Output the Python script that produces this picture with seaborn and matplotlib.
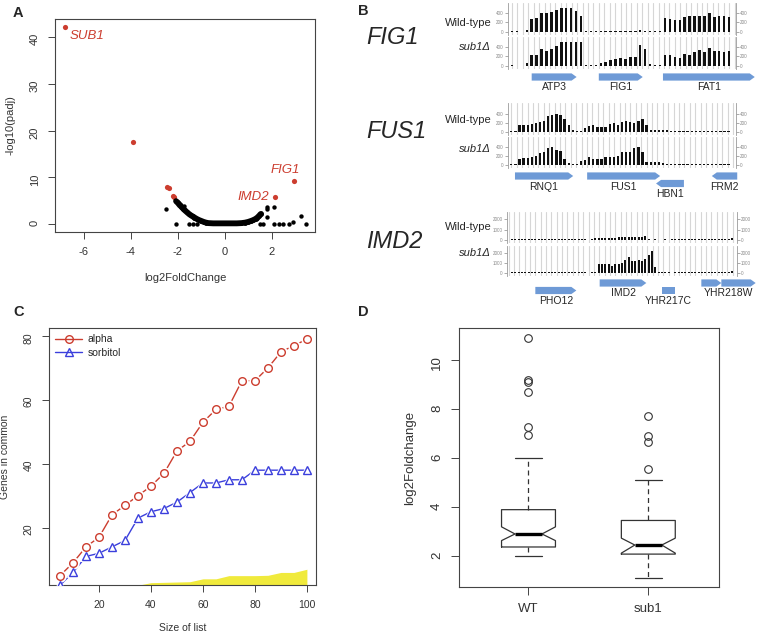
import numpy as np
import matplotlib.pyplot as plt
from matplotlib.patches import Polygon
from matplotlib.lines import Line2D
from matplotlib.ticker import MultipleLocator
import seaborn as sns

sns.set_style('ticks')
plt.rcParams['font.family'] = ['Liberation Sans', 'DejaVu Sans']
plt.rcParams['axes.unicode_minus'] = False

W, H = 757, 635
RED = '#cc3d2f'
BLUE = '#3b3fdc'
GENE_BLUE = '#6e9ad6'
YELLOW = '#f0ea3c'
INK = '#333333'

# ---------------- A: volcano ----------------
vol_red_x = [-6.8, -3.9, -2.45, -2.4, -2.22, -2.15, 2.12, 2.93]
vol_red_y = [42.1, 17.6, 7.9, 7.7, 6.0, 5.8, 5.7, 9.2]
# dense bulk of genes (the U shaped band)
vol_band_x = [-2.08, -2.0, -1.92, -1.85, -1.78, -1.7, -1.62, -1.54, -1.46, -1.38, -1.3, -1.2,
              -1.1, -1.0, -0.9, -0.8, -0.7, -0.5, -0.25, 0.0, 0.25, 0.5, 0.7, 0.85, 0.98,
              1.1, 1.2, 1.3, 1.38, 1.45, 1.52]
vol_band_y = [4.9, 4.5, 4.0, 3.7, 3.3, 2.9, 2.55, 2.2, 1.9, 1.65, 1.4, 1.1, 0.85, 0.65, 0.45,
              0.3, 0.2, 0.15, 0.15, 0.15, 0.15, 0.15, 0.2, 0.3, 0.45, 0.65, 0.85, 1.1, 1.4,
              1.75, 2.15]
vol_other_x = [-2.52, -2.07, -1.52, -1.35, -1.2, -1.9, -1.98, -1.75, 1.77, 1.78, 2.09, 1.8,
               1.62, 1.49, 2.07, 2.31, 2.48, 2.72, 2.88, 3.23, 3.45, 1.55, 1.4]
vol_other_y = [3.2, 0.0, 0.1, 0.1, 0.0, 4.2, 4.7, 3.9, 3.2, 3.55, 3.7, 1.6, 0.0, 0.0, 0.0,
               0.05, 0.05, 0.05, 0.45, 1.8, 0.05, 2.4, 1.8]
vol_labels = ['SUB1', 'FIG1', 'IMD2']
vol_label_x = [-6.8, 2.93, 2.12]
vol_label_y = [42.1, 9.2, 5.7]

# ---------------- B: coverage tracks ----------------
fig1_wt = [25, 25, None, 40, 260, 280, 390, 390, 410, 460, 500, 500, 500, 430, 340,
           25, 25, 25, 25, 25, 25, 25, 25, 25, 25, 25, 40, 25, 25, 25, 25,
           280, 270, 240, 240, 300, 330, 340, 340, 340, 400, 310, 340, 330, 320]
fig1_sub1 = [25, None, None, 50, 220, 230, 360, 310, 360, 420, 500, 500, 500, 500, 490,
             25, 20, 20, 50, 70, 110, 150, 170, 140, 180, 190, 430, 360, 40, 20, 20,
             220, 220, 180, 170, 250, 230, 280, 340, 290, 380, 310, 320, 290, 310]
fus1_wt = [25, 25, 150, 140, 150, 180, 200, 210, 250, 340, 370, 390, 370, 290, 140,
           40, 25, 25, 80, 120, 150, 110, 110, 110, 170, 190, 150, 210, 230, 220, 190,
           240, 280, 160, 40, 30, 30, 30, 30, 25,
           25, 25, 25, 25, 25, 25, 25, 25, 25, 25, 25, 25, 25, 25]
fus1_sub1 = [25, 25, 130, 150, 150, 190, 200, 260, 300, 390, 410, 340, 310, 130, 50,
             25, 25, 90, 120, 170, 130, 130, 130, 170, 190, 170, 200, 300, 300, 300, 370,
             410, 300, 60, 60, 60, 60, 50, 25, 25,
             25, 25, 25, 25, 25, 25, 25, 25, 25, 25, 25, 25, 25, 25]
imd2_wt = ([None] + [110] * 23 + [None, 110,
           130, 160, 150, 180, 160, 190, 180, 220, 230, 220, 260, 260, 260, 250, 270, 360,
           110, None, 110, None, None, 110, None] + [110] * 18 + [150, None])
imd2_sub1 = ([None] + [110] * 23 + [None, 110,
             150, 900, 900, 880, 940, 760, 880, 870, 1020, 1330, 1570, 1180, 1190, 1340,
             1200, 1450, 1840, 2200, 620,
             110, 110, 110, 110, None] + [110] * 17 + [200, None])

fig1_gene_names = ['ATP3', 'FIG1', 'FAT1']
fig1_gene_start = [4.0, 17.6, 30.6]
fig1_gene_end = [13.1, 26.5, 49.2]
fig1_gene_strand = [1, 1, 1]
fig1_gene_lane = [0, 0, 0]

fus1_gene_names = ['RNQ1', 'FUS1', 'HBN1', 'FRM2']
fus1_gene_start = [0.9, 18.5, 35.3, 48.9]
fus1_gene_end = [15.1, 36.3, 42.1, 55.1]
fus1_gene_strand = [1, 1, -1, -1]
fus1_gene_lane = [0, 0, 1, 0]

imd2_gene_names = ['PHO12', 'IMD2', 'YHR217C', '', 'YHR218W']
imd2_gene_start = [8.0, 27.3, 46.0, 57.8, 63.8]
imd2_gene_end = [20.3, 41.3, 50.0, 63.8, 74.1]
imd2_gene_strand = [1, 1, 0, 1, 1]
imd2_gene_lane = [1, 0, 1, 0, 0]

# ---------------- C: overlap curves ----------------
list_size = [5, 10, 15, 20, 25, 30, 35, 40, 45, 50, 55, 60, 65, 70, 75, 80, 85, 90, 95, 100]
alpha_common = [5, 9, 14, 17, 24, 27, 30, 33, 37, 44, 47, 53, 57, 58, 66, 66, 70, 75, 77, 79]
sorbitol_common = [2, 6, 11, 12, 14, 16, 23, 25, 26, 28, 31, 34, 34, 35, 35, 38, 38, 38, 38, 38]
random_size = [35, 40, 45, 50, 55, 60, 65, 70, 75, 80, 85, 90, 95, 100]
random_common = [2.0, 2.8, 2.9, 3.0, 3.1, 4.0, 4.0, 5.0, 5.0, 5.0, 5.1, 6.0, 6.0, 7.0]

# ---------------- D: boxplot summary ----------------
box_groups = ['WT', 'sub1']
box_med = [2.91, 2.46]
box_q1 = [2.38, 2.09]
box_q3 = [3.90, 3.46]
box_whislo = [2.00, 1.13]
box_whishi = [6.00, 5.10]
box_cilo = [2.64, 2.13]
box_cihi = [3.20, 2.74]
box_fliers = [[10.91, 9.17, 9.09, 8.68, 7.28, 6.94], [7.72, 6.90, 6.67, 5.54]]


fig = plt.figure(figsize=(W / 100, H / 100), dpi=100)
over = fig.add_axes([0, 0, 1, 1])
over.set_xlim(0, W)
over.set_ylim(H, 0)
over.axis('off')


def px_axes(left, top, right, bottom):
    return fig.add_axes([left / W, 1 - bottom / H, (right - left) / W, (bottom - top) / H])


def r_style(ax, fs, length=5, pad=5):
    for s in ax.spines.values():
        s.set_visible(True)
        s.set_color('#444444')
        s.set_linewidth(0.8)
    ax.tick_params(direction='out', length=length, width=0.7, colors='#444444',
                   labelsize=fs, labelcolor=INK, pad=pad, bottom=True, left=True)
    ax.tick_params(axis='y', labelrotation=90)


# ---- A ----
axA = px_axes(55, 19, 315, 232)
sns.lineplot(x=vol_band_x, y=vol_band_y, sort=False, estimator=None, color='black',
             lw=4.2, solid_capstyle='round', ax=axA)
sns.scatterplot(x=vol_band_x, y=vol_band_y, color='black', s=12, linewidth=0, ax=axA)
sns.scatterplot(x=vol_other_x, y=vol_other_y, color='black', s=10, linewidth=0, ax=axA)
sns.scatterplot(x=vol_red_x, y=vol_red_y, color=RED, s=14, linewidth=0, ax=axA)
offsets = [(3, -6.5, 'left'), (4.5, 8, 'right'), (-4, 0.5, 'right')]
for lab, lx, ly, (dx, dy, ha) in zip(vol_labels, vol_label_x, vol_label_y, offsets):
    axA.annotate(lab, (lx, ly), xytext=(dx, dy), textcoords='offset points', ha=ha,
                 va='center', color=RED, style='italic', fontsize=9.5)
axA.set_xlim(-7.23, 3.83)
axA.set_ylim(-1.7, 43.85)
axA.set_xticks([-6, -4, -2, 0, 2])
axA.set_yticks([0, 10, 20, 30, 40])
r_style(axA, 8, pad=6)
axA.set_xlabel('log2FoldChange', fontsize=8, color=INK, labelpad=11)
axA.set_ylabel('-log10(padj)', fontsize=8, color=INK, labelpad=10)


# ---- B ----
def track(left, top, right, bottom, vals, ylim, yticks, xlim, grid_step, bar_w):
    ax = px_axes(left, top, right, bottom)
    v = np.array([np.nan if x is None else x for x in vals], dtype=float)
    pos = np.arange(len(v))
    keep = ~np.isnan(v)
    sns.barplot(x=pos[keep], y=v[keep], native_scale=True, orient='x', color='#111111',
                saturation=1, width=bar_w, errorbar=None, linewidth=0, ax=ax)
    ax.set_xlim(xlim)
    ax.set_ylim(ylim)
    ax.set_xlabel('')
    ax.set_ylabel('')
    ax.xaxis.set_major_locator(MultipleLocator(grid_step))
    ax.grid(axis='x', color='#d6d6d6', lw=0.8)
    ax.grid(axis='y', visible=False)
    ax.set_axisbelow(True)
    ax.tick_params(axis='x', length=0, labelbottom=False)
    ax.set_yticks(yticks)
    ax.tick_params(axis='y', left=True, right=True, labelleft=True, labelright=True,
                   direction='out', length=2, width=0.5, colors='#8a8a8a',
                   labelsize=3.3, pad=1)
    for side in ('top', 'bottom'):
        ax.spines[side].set_visible(False)
    for side in ('left', 'right'):
        ax.spines[side].set_visible(True)
        ax.spines[side].set_color('#9a9a9a')
        ax.spines[side].set_linewidth(0.6)
    ax.patch.set_alpha(0)
    return ax


def genes(ax_ref, names, starts, ends, strands, lanes, lane_top):
    x0, x1 = ax_ref.get_xlim()
    bb = ax_ref.get_position()
    left, width = bb.x0 * W, bb.width * W

    def to_px(b):
        return left + (b - x0) / (x1 - x0) * width

    h = 3.6
    for name, s, e, st, ln in zip(names, starts, ends, strands, lanes):
        ps, pe = to_px(s), to_px(e)
        yc = lane_top + 7.5 * ln
        head = min(5.0, (pe - ps) * 0.5)
        if st > 0:
            pts = [(ps, yc - h), (pe - head, yc - h), (pe, yc), (pe - head, yc + h), (ps, yc + h)]
        elif st < 0:
            pts = [(pe, yc - h), (ps + head, yc - h), (ps, yc), (ps + head, yc + h), (pe, yc + h)]
        else:
            pts = [(ps, yc - h), (pe, yc - h), (pe, yc + h), (ps, yc + h)]
        over.add_patch(Polygon(pts, closed=True, fc=GENE_BLUE, ec='none'))
        if name:
            cx = (ps + pe) / 2
            if cx + 25 > 753:
                over.text(753, yc + 10.5, name, ha='right', va='center', fontsize=7.5)
            else:
                over.text(cx, yc + 10.5, name, ha='center', va='center', fontsize=7.5)


t1 = track(508, 3, 736, 35, fig1_wt, (-69, 604), [0, 200, 400], (-0.8, 45.4), 1.1, 0.5)
t2 = track(508, 37, 736, 69, fig1_sub1, (-69, 604), [0, 200, 400], (-0.8, 45.4), 1.1, 0.5)
genes(t2, fig1_gene_names, fig1_gene_start, fig1_gene_end, fig1_gene_strand, fig1_gene_lane, 77)

t3 = track(508, 103.4, 736, 134.9, fus1_wt, (-70, 630), [0, 200, 400], (-0.8, 54.8), 1.32, 0.55)
t4 = track(508, 136.7, 736, 168.2, fus1_sub1, (-70, 630), [0, 200, 400], (-0.8, 54.8), 1.32, 0.55)
genes(t4, fus1_gene_names, fus1_gene_start, fus1_gene_end, fus1_gene_strand, fus1_gene_lane, 176)

t5 = track(507, 212.2, 737, 242.8, imd2_wt, (-300, 2700), [0, 1000, 2000], (-0.5, 68.5), 1.6, 0.6)
t6 = track(507, 245.8, 737, 276.4, imd2_sub1, (-300, 2700), [0, 1000, 2000], (-0.5, 68.5), 1.6, 0.6)
genes(t6, imd2_gene_names, imd2_gene_start, imd2_gene_end, imd2_gene_strand, imd2_gene_lane, 283)

for name, y in [('FIG1', 37), ('FUS1', 131), ('IMD2', 241)]:
    over.text(366, y, name, style='italic', fontsize=17, ha='left', va='center')
for y_wt, y_sub in [(23, 47), (120, 149), (227, 253)]:
    over.text(492, y_wt, 'Wild-type', ha='right', va='center', fontsize=8)
    over.text(491, y_sub, 'sub1Δ', ha='right', va='center', fontsize=8, style='italic')


# ---- C ----
axC = px_axes(49, 328, 316, 585)
axC.fill_between(random_size, 0, random_common, color=YELLOW, lw=0, zorder=1)
for ys, col, mk in [(alpha_common, RED, 'o'), (sorbitol_common, BLUE, '^')]:
    sns.lineplot(x=list_size, y=ys, color=col, lw=1.0, ax=axC, zorder=2)
    sns.lineplot(x=list_size, y=ys, color='white', ls='none', marker=mk, markersize=9,
                 markerfacecolor='white', markeredgecolor='white', markeredgewidth=0,
                 ax=axC, zorder=3)
    sns.lineplot(x=list_size, y=ys, color=col, ls='none', marker=mk, markersize=5.5,
                 markerfacecolor='none', markeredgecolor=col, markeredgewidth=1.0,
                 ax=axC, zorder=4)
axC.set_xlim(0.77, 103.5)
axC.set_ylim(2.07, 82.5)
axC.set_xticks([20, 40, 60, 80, 100])
axC.set_yticks([20, 40, 60, 80])
r_style(axC, 7.5, pad=6)
axC.set_xlabel('Size of list', fontsize=7.5, color=INK, labelpad=9)
axC.set_ylabel('Genes in common', fontsize=7.5, color=INK, labelpad=10)
handles = [Line2D([], [], color=RED, marker='o', mfc='none', ms=5.5, lw=1.0),
           Line2D([], [], color=BLUE, marker='^', mfc='none', ms=5.5, lw=1.0)]
axC.legend(handles, ['alpha', 'sorbitol'], loc='upper left', frameon=False, fontsize=7.5,
           handlelength=2.6, handletextpad=0.5, labelspacing=0.35, borderaxespad=0.2)


# ---- D ----
axD = px_axes(459, 328, 719, 587)
stats = []
for i, g in enumerate(box_groups):
    stats.append(dict(label=g, med=box_med[i], q1=box_q1[i], q3=box_q3[i],
                      whislo=box_whislo[i], whishi=box_whishi[i],
                      cilo=box_cilo[i], cihi=box_cihi[i], fliers=box_fliers[i]))
axD.bxp(stats, positions=[1, 2], widths=0.45, shownotches=True,
        boxprops=dict(color='#333333', lw=0.9),
        whiskerprops=dict(color='#333333', lw=0.9, ls=(0, (4, 3))),
        capprops=dict(color='#333333', lw=0.9),
        medianprops=dict(color='black', lw=2.4),
        flierprops=dict(marker='o', mfc='none', mec='#333333', ms=5.5, mew=0.8))
axD.set_xlim(0.42, 2.59)
axD.set_ylim(0.75, 11.3)
axD.set_yticks([2, 4, 6, 8, 10])
r_style(axD, 9.5, length=5.5, pad=6)
axD.set_ylabel('log2Foldchange', fontsize=9.5, color=INK, labelpad=11)

# panel letters
for letter, x, y in [('A', 13, 13), ('B', 358, 11), ('C', 13, 312), ('D', 358, 312)]:
    over.text(x, y, letter, fontweight='bold', fontsize=10.5, ha='left', va='center')

fig.savefig('out.png', dpi=100)
